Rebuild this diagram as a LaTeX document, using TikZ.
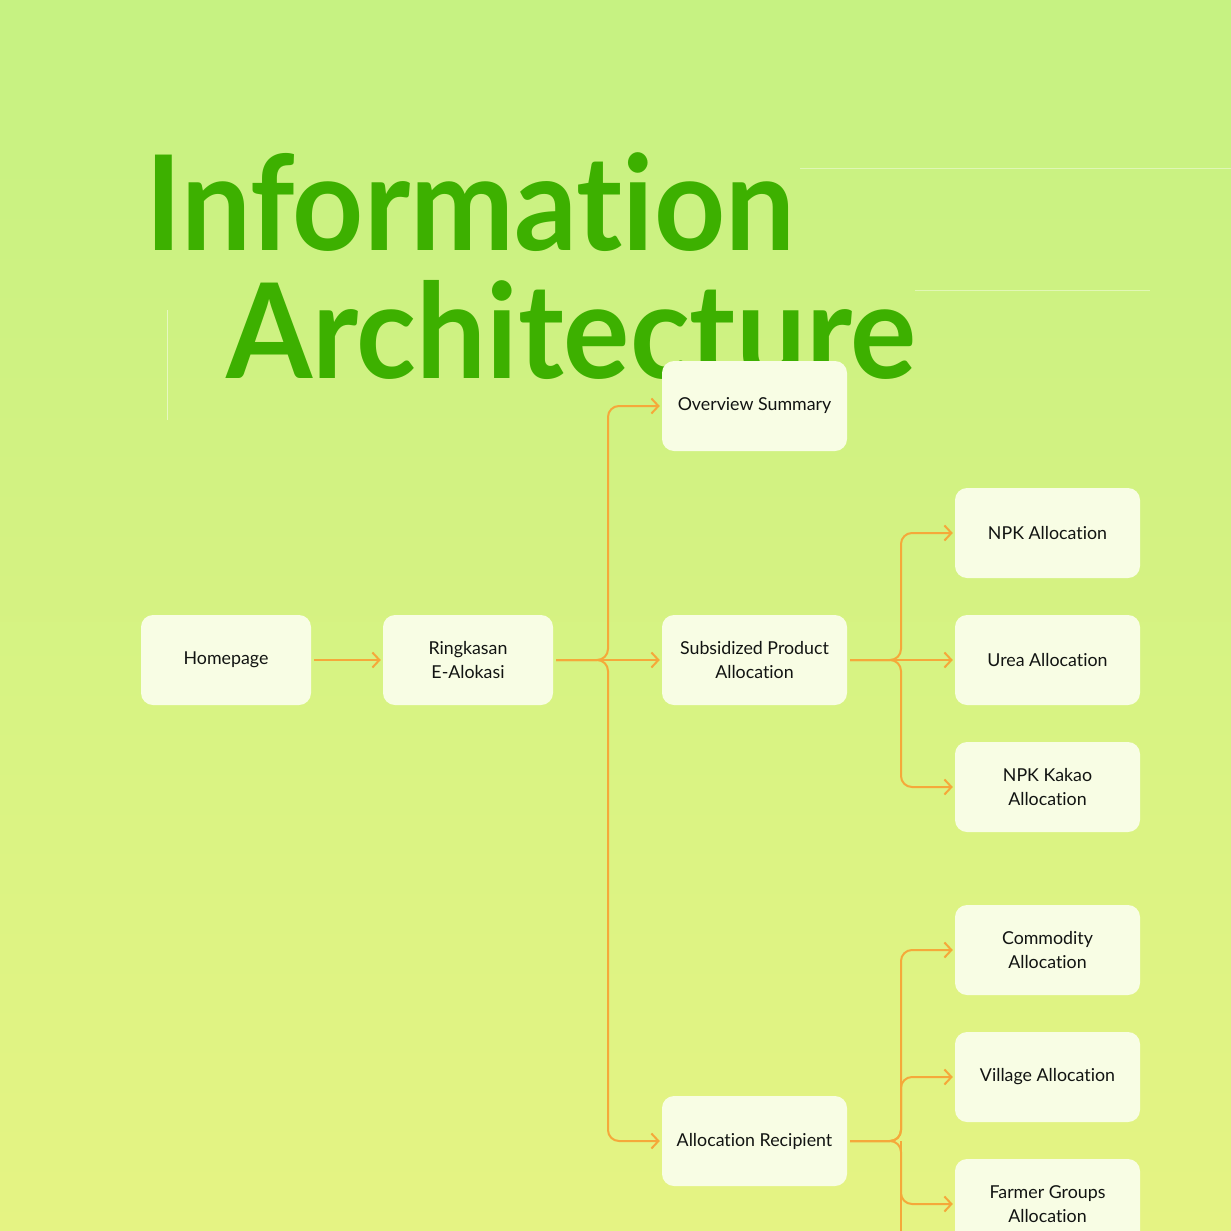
\documentclass[tikz,border=0pt]{standalone}
\usepackage{fontspec}
\setmainfont{Lato}[Ligatures=NoCommon]
\usetikzlibrary{arrows.meta}
\definecolor{bgtop}{RGB}{198,242,130}
\definecolor{bgmid}{RGB}{224,243,134}
\definecolor{bgbot}{RGB}{229,243,131}
\definecolor{titlegreen}{RGB}{61,176,0}
\definecolor{boxfill}{RGB}{248,253,228}
\definecolor{linkorange}{RGB}{245,168,58}
\definecolor{boxtext}{RGB}{18,20,18}
\begin{document}
\begin{tikzpicture}[x=1pt,y=-1pt,
  page/.style={fill=boxfill, text=boxtext, rounded corners=12pt, inner sep=0pt,
    minimum width=185pt, minimum height=90pt, align=center,
    font=\fontsize{17.8}{24}\selectfont},
  smallpage/.style={page, minimum width=170pt},
  heading/.style={anchor=base west, text=titlegreen, inner sep=0pt,
    xscale=0.94, transform shape,
    font=\fontsize{132}{132}\selectfont\bfseries},
  link/.style={draw=linkorange, line width=2pt, rounded corners=11pt,
    -{Straight Barb[length=7pt,width=15pt,line width=2pt]}}]
  \useasboundingbox (0,0) rectangle (1231,1231);
  \clip (0,0) rectangle (1231,1231);
  % Background
  \shade[top color=bgtop, middle color=bgmid, bottom color=bgbot] (0,0) rectangle (1231,1231);
  \draw[white, opacity=0.5, line width=0.8pt] (167,310) -- (167,420);
  \draw[white, opacity=0.4, line width=0.8pt] (800,168) -- (1231,168);
  \draw[white, opacity=0.4, line width=0.8pt] (915,290) -- (1150,290);
  % Title
  \node[heading] (title1) at (145,250) {Information};
  \node[heading] (title2) at (226,378) {Architecture};
  % Level 0
  \node[smallpage] (home) at (226,660) {Homepage};
  \node[smallpage] (ring) at (468,660) {Ringkasan\\E-Alokasi};
  % Level 1
  \node[page] (over) at (754.5,406) {Overview Summary};
  \node[page] (sub) at (754.5,660) {Subsidized Product\\Allocation};
  \node[page] (rec) at (754.5,1141) {Allocation Recipient};
  % Level 2
  \node[page] (npk) at (1047.5,533) {NPK Allocation};
  \node[page] (urea) at (1047.5,660) {Urea Allocation};
  \node[page] (kakao) at (1047.5,787) {NPK Kakao\\Allocation};
  \node[page] (comm) at (1047.5,950) {Commodity\\Allocation};
  \node[page] (vill) at (1047.5,1077) {Village Allocation};
  \node[page] (farm) at (1047.5,1204) {Farmer Groups\\Allocation};
  % Junctions
  \coordinate (tA) at (608,660);
  \coordinate (tB) at (901,660);
  \coordinate (tC) at (901,1141);
  \coordinate (tCend) at (901,1260);
  % Edges
  \draw[link] ([xshift=3pt]home.east) -- ([xshift=-2pt]ring.west);
  \foreach \x/\y in {over,rec}
    \draw[link] ([xshift=3pt]ring.east) -- (tA) |- ([xshift=-2pt]\y.west);
  \draw[link] ([xshift=3pt]ring.east) -- ([xshift=-2pt]sub.west);
  \foreach \x/\y in {npk,kakao}
    \draw[link] ([xshift=3pt]sub.east) -- (tB) |- ([xshift=-2pt]\y.west);
  \draw[link] ([xshift=3pt]sub.east) -- ([xshift=-2pt]urea.west);
  \foreach \x/\y in {comm,vill,farm}
    \draw[link] ([xshift=3pt]rec.east) -- (tC) |- ([xshift=-2pt]\y.west);
  \draw[draw=linkorange, line width=2pt] (tC) -- (tCend);
\end{tikzpicture}
\end{document}
